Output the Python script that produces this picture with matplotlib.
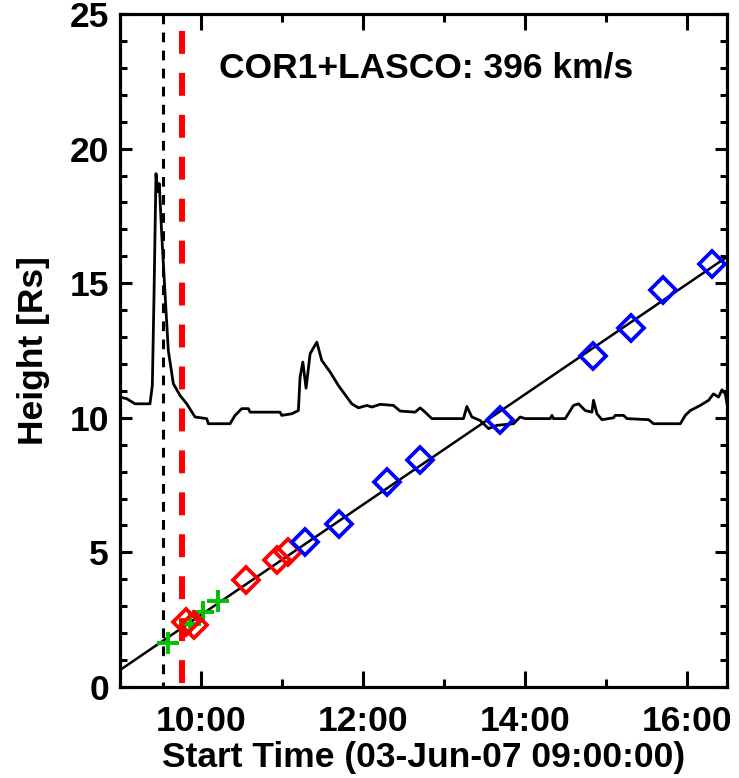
import matplotlib
matplotlib.use("Agg")
import matplotlib.pyplot as plt
from matplotlib.ticker import MultipleLocator, FuncFormatter
import numpy as np

plt.rcParams['font.family'] = ['Liberation Sans', 'DejaVu Sans']
plt.rcParams['font.weight'] = 'bold'
plt.rcParams['lines.scale_dashes'] = False

# time in hours after 03-Jun-07 09:00:00
# GOES-like light curve, scaled onto the height axis
curve_t = [0.000, 0.083, 0.185, 0.370, 0.399, 0.420, 0.444, 0.465, 0.485, 0.515,
           0.556, 0.596, 0.658, 0.741, 0.823, 0.926, 1.070, 1.090, 1.358, 1.420,
           1.502, 1.584, 1.605, 1.975, 1.996, 2.120, 2.201, 2.222, 2.256, 2.296,
           2.346, 2.428, 2.490, 2.593, 2.695, 2.799, 2.860, 2.942, 3.046, 3.107,
           3.210, 3.374, 3.457, 3.642, 3.704, 3.765, 3.848, 4.238, 4.280, 4.342,
           4.444, 4.547, 4.651, 4.856, 4.938, 5.000, 5.309, 5.330, 5.349, 5.494,
           5.596, 5.658, 5.741, 5.823, 5.843, 5.885, 5.947, 6.090, 6.111, 6.214,
           6.256, 6.522, 6.584, 6.914, 6.975, 7.037, 7.160, 7.263, 7.323, 7.386,
           7.428, 7.469, 7.490]
curve_h = [10.77, 10.71, 10.52, 10.52, 11.20, 14.60, 19.07, 18.40, 18.70, 16.80,
           14.60, 12.50, 11.27, 10.83, 10.52, 10.03, 9.97, 9.78, 9.78, 10.09,
           10.34, 10.34, 10.21, 10.21, 10.09, 10.15, 10.27, 11.51, 12.07, 11.10,
           12.38, 12.81, 12.13, 11.70, 11.20, 10.77, 10.52, 10.37, 10.46, 10.40,
           10.50, 10.46, 10.25, 10.21, 10.37, 10.21, 9.97, 9.97, 10.42, 10.03,
           9.90, 9.60, 9.72, 9.78, 10.03, 9.97, 9.97, 10.09, 9.97, 9.97,
           10.46, 10.52, 10.27, 10.21, 10.65, 10.15, 9.93, 10.00, 10.09, 10.09,
           9.97, 9.93, 9.78, 9.78, 10.09, 10.27, 10.46, 10.65, 10.89, 10.77,
           11.04, 10.89, 10.52]

# green crosses
euvi_t = [0.59, 0.86, 1.02, 1.21]
euvi_h = [1.65, 2.35, 2.80, 3.20]

# red diamonds (COR1)
cor1_t = [0.81, 0.91, 1.56, 1.94, 2.07]
cor1_h = [2.40, 2.30, 3.97, 4.71, 5.01]

# blue diamonds (LASCO)
lasco_t = [2.28, 2.70, 3.29, 3.70, 4.69, 5.84, 6.30, 6.70, 7.30]
lasco_h = [5.39, 6.07, 7.61, 8.42, 9.90, 12.31, 13.32, 14.73, 15.73]

fit_speed = 396      # km/s
fit_h0 = 0.63        # Rs at 09:00
flare_t = 0.53       # black dashed line
onset_t = 0.77       # red dashed line
t_end = 7.49

rsun_km = 695700.0
slope = fit_speed * 3600.0 / rsun_km   # Rs per hour

fig = plt.figure(figsize=(7.39, 7.78), dpi=100)
ax = fig.add_axes([120/739, 91/778, 607/739, 673/778])

ax.plot(curve_t, curve_h, color='black', lw=2.0)

tt = np.array([0, t_end])
ax.plot(tt, fit_h0 + slope * tt, color='black', lw=1.8)

ax.plot([flare_t, flare_t], [25, 0], color='black', lw=2.2,
        linestyle=(0, (7.0, 6.0)))
ax.plot([onset_t, onset_t], [25, 0], color='red', lw=4.3,
        linestyle=(18.0, (16.5, 13.7)))

ax.plot(euvi_t, euvi_h, '+', color='#00c000', ms=16, mew=2.8)
ax.plot(cor1_t, cor1_h, 'D', mfc='none', mec='red', ms=13, mew=2.7)
ax.plot(lasco_t, lasco_h, 'D', mfc='none', mec='blue', ms=13, mew=2.7)

ax.text(0.504, 0.906, 'COR1+LASCO: %d km/s' % fit_speed, transform=ax.transAxes,
        ha='center', va='baseline', fontsize=25.5, fontweight='bold')

ax.set_xlim(0, t_end)
ax.set_ylim(0, 25)

ax.xaxis.set_major_formatter(FuncFormatter(lambda v, p: '%02d:00' % (9 + int(round(v)))))
ax.set_xticks([1, 3, 5, 7])
ax.set_xticks([2, 4, 6], minor=True)
ax.yaxis.set_major_locator(MultipleLocator(5))
ax.yaxis.set_minor_locator(MultipleLocator(1))

ax.tick_params(axis='both', which='both', direction='in', top=True, right=True,
               width=2.2, labelsize=25.5)
ax.tick_params(axis='x', which='major', length=11.5, pad=13)
ax.tick_params(axis='x', which='minor', length=5.8)
ax.tick_params(axis='y', which='major', length=8.6, pad=8)
ax.tick_params(axis='y', which='minor', length=5.0)
for lab in ax.get_xticklabels() + ax.get_yticklabels():
    lab.set_fontweight('bold')

for s in ax.spines.values():
    s.set_linewidth(2.3)

ax.set_xlabel('Start Time (03-Jun-07 09:00:00)', fontsize=25.5, fontweight='bold', labelpad=2)
ax.set_ylabel('Height [Rs]', fontsize=25.5, fontweight='bold', labelpad=14)

fig.savefig('out.png', dpi=100)
